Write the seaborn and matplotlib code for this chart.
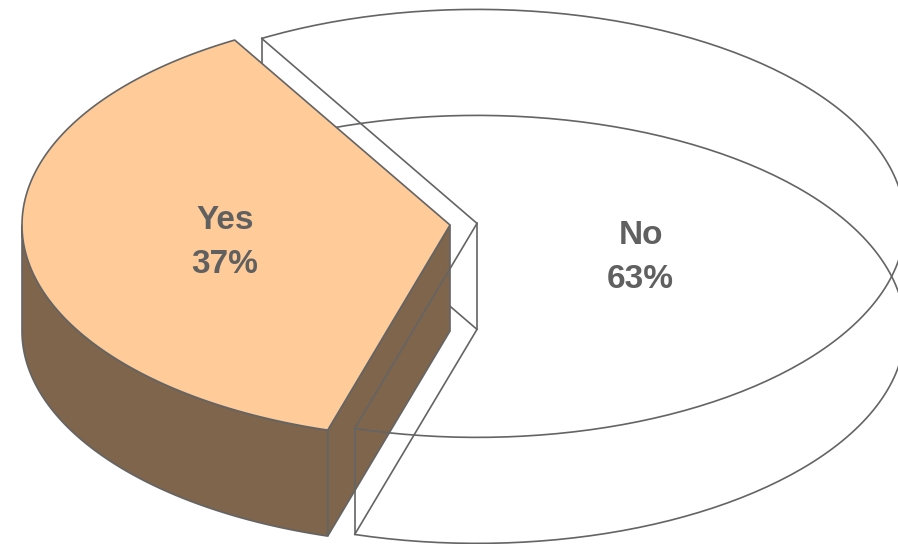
import numpy as np
import matplotlib
matplotlib.use("Agg")
import matplotlib.pyplot as plt
from matplotlib.patches import Polygon
import seaborn as sns

# ---- data ----
categories = ["Yes", "No"]
values = [37, 63]
pct_labels = ["37%", "63%"]

sns.set_theme(style="white")
plt.rcParams['font.family'] = ['Liberation Sans', 'DejaVu Sans']

# ---- layout / style ----
W, H = 898, 544
CX, CY = 450.0, 225.0      # centre of the pie top (pixel space)
RX, RY = 428.0, 214.0      # ellipse radii of the tilted pie
DEPTH = 106.0              # thickness of the pie
START = 120.2              # start angle of first slice (deg, ccw)
EXPLODE = [0.0, 0.0635]
FILLED = [True, False]
TOP_COL = "#FFCC99"
SIDE_COL = "#7F654B"
EDGE = "#646464"
TXT = "#606060"
LW = 1.2
LABEL_R = [0.53, 0.385]
LABEL_DY = [1.0, 40.0]

fig = plt.figure(figsize=(W / 100, H / 100), dpi=100)
ax = fig.add_axes([0, 0, 1, 1])
ax.set_xlim(0, W)
ax.set_ylim(H, 0)
ax.axis("off")

total = float(sum(values))
bounds = START + np.concatenate([[0], np.cumsum(values) / total * 360.0])


def pt(cx, cy, t, dz=0.0):
    r = np.radians(t)
    return np.array([cx + RX * np.cos(r), cy - RY * np.sin(r) + dz])


def arc(cx, cy, ta, tb, dz=0.0, n=200):
    t = np.radians(np.linspace(ta, tb, n))
    return np.column_stack([cx + RX * np.cos(t), cy - RY * np.sin(t) + dz])


def line(p, q, z):
    ax.plot([p[0], q[0]], [p[1], q[1]], color=EDGE, lw=LW, zorder=z,
            solid_capstyle="round")


for i, (cat, v) in enumerate(zip(categories, values)):
    t1, t2 = bounds[i], bounds[i + 1]
    mid = 0.5 * (t1 + t2)
    off = EXPLODE[i] * np.array([RX * np.cos(np.radians(mid)),
                                 -RY * np.sin(np.radians(mid))])
    cx, cy = CX + off[0], CY + off[1]
    c_top = np.array([cx, cy])
    c_bot = np.array([cx, cy + DEPTH])
    p1t, p2t = pt(cx, cy, t1), pt(cx, cy, t2)
    p1b, p2b = pt(cx, cy, t1, DEPTH), pt(cx, cy, t2, DEPTH)

    if FILLED[i]:
        # front cut face (at t2)
        if np.cos(np.radians(t2)) < 0:
            ax.add_patch(Polygon([c_top, p2t, p2b, c_bot], closed=True,
                                 fc=SIDE_COL, ec=EDGE, lw=LW, zorder=2))
        if np.cos(np.radians(t1)) > 0:
            ax.add_patch(Polygon([c_top, p1t, p1b, c_bot], closed=True,
                                 fc=SIDE_COL, ec=EDGE, lw=LW, zorder=2))
        # outer side wall (front half only)
        a0 = max(t1, 180.0)
        a1 = min(t2, 360.0)
        if a1 > a0:
            top_a = arc(cx, cy, a0, a1)
            bot_a = arc(cx, cy, a0, a1, DEPTH)[::-1]
            ax.add_patch(Polygon(np.vstack([top_a, bot_a]), closed=True,
                                 fc=SIDE_COL, ec=EDGE, lw=LW, zorder=2,
                                 joinstyle="round"))
        # top face
        top_poly = np.vstack([c_top, arc(cx, cy, t1, t2)])
        ax.add_patch(Polygon(top_poly, closed=True, fc=TOP_COL, ec=EDGE,
                             lw=LW, zorder=2.5, joinstyle="round"))
    else:
        # transparent wireframe slice
        ta = arc(cx, cy, t1, t2)
        tb = arc(cx, cy, t1, t2, DEPTH)
        ax.plot(ta[:, 0], ta[:, 1], color=EDGE, lw=LW, zorder=3)
        ax.plot(tb[:, 0], tb[:, 1], color=EDGE, lw=LW, zorder=1)
        line(c_top, p1t, 3)
        line(c_top, p2t, 3)
        line(c_bot, p1b, 1)
        line(c_bot, p2b, 1)
        line(c_top, c_bot, 1)
        # vertical edges: the one nearer the viewer is drawn on top
        line(p1t, p1b, 3 if np.sin(np.radians(t1)) < 0 else 1)
        line(p2t, p2b, 3 if np.sin(np.radians(t2)) < 0 else 1)

    # label
    lr = LABEL_R[i]
    lx = cx + lr * RX * np.cos(np.radians(mid))
    ly = cy - lr * RY * np.sin(np.radians(mid)) + LABEL_DY[i]
    ax.text(lx, ly - 10, cat, ha="center", va="baseline", fontsize=24,
            fontweight="bold", color=TXT, zorder=5)
    ax.text(lx, ly + 34, pct_labels[i], ha="center", va="baseline",
            fontsize=24, fontweight="bold", color=TXT, zorder=5)

fig.savefig("out.png", dpi=100, facecolor="white")
